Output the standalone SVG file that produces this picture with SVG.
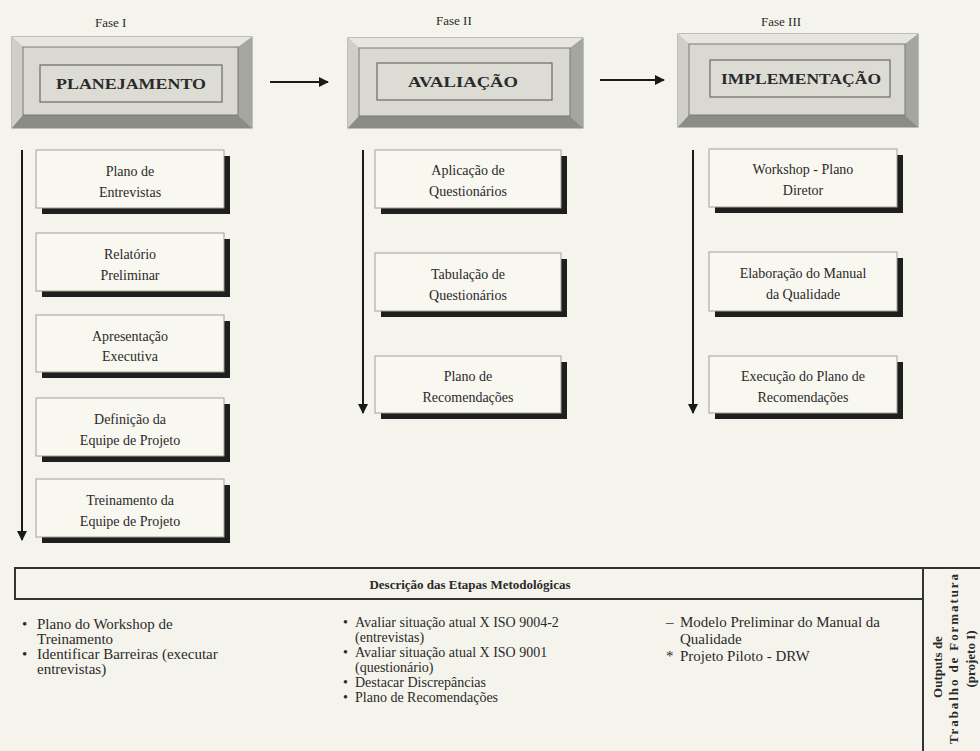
<svg xmlns="http://www.w3.org/2000/svg" width="980" height="751" viewBox="0 0 980 751">
<defs>
<style>
text{font-family:"Liberation Serif","Times New Roman",serif;fill:#2a2a2a}
.fase{font-size:13px}
.hdr{font-size:15px;font-weight:bold;text-anchor:middle}
.lbl{font-size:14px;text-anchor:middle}
.bl{font-size:14px}
.bl15{font-size:15px}
.face{fill:#d9d9d2;stroke:#7a7a75;stroke-width:1}
.frame{fill:#c4c4bd;stroke:#8a8a85;stroke-width:1}
.btop{fill:#e6e6df}
.bleft{fill:#cfcfc8}
.bbot{fill:#8c8c87}
.bright{fill:#a6a6a0}
.inner{fill:#dcdcd5;stroke:#6a6a66;stroke-width:1.2}
.box{fill:#f8f7f0;stroke:#a0a09a;stroke-width:1}
.shadow{fill:#1e1e1e}
.conn{stroke:#1a1a1a;stroke-width:2;fill:none}
.tbl{stroke:#333;stroke-width:2;fill:none}
.vt{font-size:13px;font-weight:bold;text-anchor:middle}
</style>
<marker id="ah" viewBox="0 0 10 10" refX="9" refY="5" markerWidth="5" markerHeight="5" orient="auto">
<path d="M0,0 L10,5 L0,10 z" fill="#1a1a1a"/>
</marker>
</defs>
<rect width="980" height="751" fill="#f5f4ec"/>

<text class="fase" x="95" y="27">Fase I</text>
<text class="fase" x="436" y="25">Fase II</text>
<text class="fase" x="761" y="26">Fase III</text>

<g id="planejamento">
<rect class="frame" x="12" y="37" width="240" height="91"/>
<polygon class="btop" points="12,37 252,37 238,47 23,47"/>
<polygon class="bleft" points="12,37 23,47 23,115 12,128"/>
<polygon class="bbot" points="12,128 252,128 238,115 23,115"/>
<polygon class="bright" points="252,37 252,128 238,115 238,47"/>
<rect class="face" x="23" y="47" width="215" height="68"/>
<rect class="inner" x="40" y="65" width="182" height="37"/>
<text class="hdr" x="131" y="89" textLength="150" lengthAdjust="spacingAndGlyphs">PLANEJAMENTO</text>
</g>

<g id="avaliacao">
<rect class="frame" x="348" y="38" width="235" height="90"/>
<polygon class="btop" points="348,38 583,38 570,48 359,48"/>
<polygon class="bleft" points="348,38 359,48 359,116 348,128"/>
<polygon class="bbot" points="348,128 583,128 570,116 359,116"/>
<polygon class="bright" points="583,38 583,128 570,116 570,48"/>
<rect class="face" x="359" y="48" width="211" height="68"/>
<rect class="inner" x="377" y="63" width="175" height="37"/>
<text class="hdr" x="463" y="87" textLength="110" lengthAdjust="spacingAndGlyphs">AVALIAÇÃO</text>
</g>

<g id="implementacao">
<rect class="frame" x="678" y="34" width="240" height="93"/>
<polygon class="btop" points="678,34 918,34 905,44 689,44"/>
<polygon class="bleft" points="678,34 689,44 689,115 678,127"/>
<polygon class="bbot" points="678,127 918,127 905,115 689,115"/>
<polygon class="bright" points="918,34 918,127 905,115 905,44"/>
<rect class="face" x="689" y="44" width="216" height="71"/>
<rect class="inner" x="710" y="60" width="180" height="37"/>
<text class="hdr" x="801" y="84" textLength="160" lengthAdjust="spacingAndGlyphs">IMPLEMENTAÇÃO</text>
</g>

<g id="connectors">
<line class="conn" x1="270" y1="82" x2="328" y2="82" marker-end="url(#ah)"/>
<line class="conn" x1="600" y1="80" x2="664" y2="80" marker-end="url(#ah)"/>
<line class="conn" x1="22" y1="150" x2="22" y2="540" marker-end="url(#ah)"/>
<line class="conn" x1="363" y1="150" x2="363" y2="413" marker-end="url(#ah)"/>
<line class="conn" x1="693" y1="150" x2="693" y2="413" marker-end="url(#ah)"/>
</g>

<g id="plano-entrevistas">
<rect class="shadow" x="42" y="156" width="188" height="58"/>
<rect class="box" x="36" y="150" width="188" height="58"/>
<text class="lbl" x="130" y="176">Plano de</text>
<text class="lbl" x="130" y="197">Entrevistas</text>
</g>
<g id="relatorio-preliminar">
<rect class="shadow" x="42" y="239" width="188" height="58"/>
<rect class="box" x="36" y="233" width="188" height="58"/>
<text class="lbl" x="130" y="259">Relatório</text>
<text class="lbl" x="130" y="280">Preliminar</text>
</g>
<g id="apresentacao-executiva">
<rect class="shadow" x="42" y="321" width="188" height="57"/>
<rect class="box" x="36" y="315" width="188" height="57"/>
<text class="lbl" x="130" y="341">Apresentação</text>
<text class="lbl" x="130" y="361">Executiva</text>
</g>
<g id="definicao-equipe">
<rect class="shadow" x="42" y="404" width="188" height="58"/>
<rect class="box" x="36" y="398" width="188" height="58"/>
<text class="lbl" x="130" y="424">Definição da</text>
<text class="lbl" x="130" y="445">Equipe de Projeto</text>
</g>
<g id="treinamento-equipe">
<rect class="shadow" x="42" y="485" width="188" height="58"/>
<rect class="box" x="36" y="479" width="188" height="58"/>
<text class="lbl" x="130" y="505">Treinamento da</text>
<text class="lbl" x="130" y="526">Equipe de Projeto</text>
</g>

<g id="aplicacao-questionarios">
<rect class="shadow" x="381" y="156" width="186" height="58"/>
<rect class="box" x="375" y="150" width="186" height="58"/>
<text class="lbl" x="468" y="175">Aplicação de</text>
<text class="lbl" x="468" y="196">Questionários</text>
</g>
<g id="tabulacao-questionarios">
<rect class="shadow" x="381" y="259" width="186" height="58"/>
<rect class="box" x="375" y="253" width="186" height="58"/>
<text class="lbl" x="468" y="279">Tabulação de</text>
<text class="lbl" x="468" y="300">Questionários</text>
</g>
<g id="plano-recomendacoes">
<rect class="shadow" x="381" y="362" width="186" height="57"/>
<rect class="box" x="375" y="356" width="186" height="57"/>
<text class="lbl" x="468" y="381">Plano de</text>
<text class="lbl" x="468" y="402">Recomendações</text>
</g>

<g id="workshop-plano-diretor">
<rect class="shadow" x="715" y="155" width="188" height="58"/>
<rect class="box" x="709" y="149" width="188" height="58"/>
<text class="lbl" x="803" y="174">Workshop - Plano</text>
<text class="lbl" x="803" y="195">Diretor</text>
</g>
<g id="elaboracao-manual">
<rect class="shadow" x="715" y="258" width="188" height="59"/>
<rect class="box" x="709" y="252" width="188" height="59"/>
<text class="lbl" x="803" y="278">Elaboração do Manual</text>
<text class="lbl" x="803" y="299">da Qualidade</text>
</g>
<g id="execucao-plano">
<rect class="shadow" x="715" y="362" width="188" height="57"/>
<rect class="box" x="709" y="356" width="188" height="57"/>
<text class="lbl" x="803" y="381">Execução do Plano de</text>
<text class="lbl" x="803" y="402">Recomendações</text>
</g>

<g id="descricao">
<line class="tbl" x1="15" y1="568" x2="980" y2="568"/>
<line class="tbl" x1="15" y1="599" x2="923" y2="599"/>
<line class="tbl" x1="15" y1="567" x2="15" y2="600"/>
<line class="tbl" x1="923" y1="567" x2="923" y2="751"/>
<text x="470" y="589" style="font-size:13px;font-weight:bold;text-anchor:middle">Descrição das Etapas Metodológicas</text>
</g>

<g id="col1-text">
<text class="bl15" x="22" y="629">•</text>
<text class="bl15" x="37" y="629">Plano do Workshop de</text>
<text class="bl15" x="37" y="644">Treinamento</text>
<text class="bl15" x="22" y="659">•</text>
<text class="bl15" x="37" y="659">Identificar Barreiras (executar</text>
<text class="bl15" x="37" y="674">entrevistas)</text>
</g>

<g id="col2-text">
<text class="bl" x="343" y="627">•</text>
<text class="bl" x="355" y="627">Avaliar situação atual X ISO 9004-2</text>
<text class="bl" x="355" y="642">(entrevistas)</text>
<text class="bl" x="343" y="657">•</text>
<text class="bl" x="355" y="657">Avaliar situação atual X ISO 9001</text>
<text class="bl" x="355" y="672">(questionário)</text>
<text class="bl" x="343" y="687">•</text>
<text class="bl" x="355" y="687">Destacar Discrepâncias</text>
<text class="bl" x="343" y="702">•</text>
<text class="bl" x="355" y="702">Plano de Recomendações</text>
</g>

<g id="col3-text">
<text class="bl15" x="666" y="627">–</text>
<text class="bl15" x="680" y="627">Modelo Preliminar do Manual da</text>
<text class="bl15" x="680" y="644">Qualidade</text>
<text class="bl15" x="666" y="661">*</text>
<text class="bl15" x="680" y="661">Projeto Piloto - DRW</text>
</g>

<g id="outputs">
<text class="vt" transform="translate(942,667) rotate(-90)">Outputs de</text>
<text class="vt" transform="translate(958,659) rotate(-90)" textLength="170" lengthAdjust="spacing">Trabalho de Formatura</text>
<text class="vt" transform="translate(975,659) rotate(-90)">(projeto I)</text>
</g>
</svg>
